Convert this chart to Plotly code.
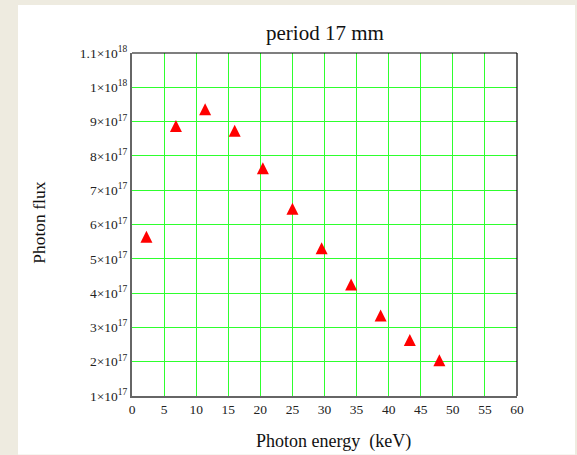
import plotly.graph_objects as go

# ---- data ----
energy_keV = [2.25, 6.85, 11.4, 16.0, 20.4, 25.0, 29.55, 34.15, 38.75, 43.3, 47.9]
photon_flux = [5.64e17, 8.87e17, 9.36e17, 8.73e17, 7.64e17, 6.46e17,
               5.31e17, 4.25e17, 3.35e17, 2.63e17, 2.04e17]

x_tick_vals = [0, 5, 10, 15, 20, 25, 30, 35, 40, 45, 50, 55, 60]
y_tick_vals = [1e17, 2e17, 3e17, 4e17, 5e17, 6e17, 7e17, 8e17, 9e17, 1e18, 1.1e18]
y_tick_text = ["1×10<sup>17</sup>", "2×10<sup>17</sup>", "3×10<sup>17</sup>",
               "4×10<sup>17</sup>", "5×10<sup>17</sup>", "6×10<sup>17</sup>",
               "7×10<sup>17</sup>", "8×10<sup>17</sup>", "9×10<sup>17</sup>",
               "1×10<sup>18</sup>", "1.1×10<sup>18</sup>"]

title_text = "period 17 mm"
x_label = "Photon energy  (keV)"
y_label = "Photon flux"

SERIF = "Liberation Serif, Times New Roman, serif"
GRID = "#2eff2e"

fig = go.Figure()
fig.add_trace(go.Scatter(
    x=energy_keV, y=photon_flux, mode="markers",
    marker=dict(symbol="arrow-down", angle=180, standoff=6, size=12,
                color="#ff0000", line=dict(width=0)),
    showlegend=False, hoverinfo="x+y",
))

fig.update_layout(
    width=577, height=455,
    margin=dict(l=132, r=60, t=53, b=58.5, pad=0),
    paper_bgcolor="#eeebe0",
    plot_bgcolor="#ffffff",
    font=dict(family=SERIF, color="#222222", size=12),
    xaxis=dict(range=[0, 60], tickvals=x_tick_vals, showgrid=True,
               gridcolor=GRID, gridwidth=1.3, zeroline=False,
               showline=True, linecolor="#666666", linewidth=2,
               ticks="", tickfont=dict(family=SERIF, size=13.5, color="#222222")),
    yaxis=dict(range=[1e17, 1.1e18], tickvals=y_tick_vals, ticktext=y_tick_text,
               showgrid=True, gridcolor=GRID, gridwidth=1.3, zeroline=False,
               showline=True, linecolor="#666666", linewidth=2,
               ticks="", tickfont=dict(family=SERIF, size=13.5, color="#222222")),
    shapes=[
        # white panel behind the chart
        dict(type="rect", xref="paper", yref="paper", layer="below",
             x0=(18 - 132) / 385, x1=(575 - 132) / 385,
             y0=(396.5 - 455) / 343.5, y1=(396.5 - 5) / 343.5,
             fillcolor="#ffffff", line=dict(width=0)),
        # top and right frame lines
        dict(type="line", xref="paper", yref="paper", x0=0, x1=1, y0=1, y1=1,
             line=dict(color="#000000", width=1.2)),
        dict(type="line", xref="paper", yref="paper", x0=1, x1=1, y0=0, y1=1,
             line=dict(color="#000000", width=1.2)),
    ],
    annotations=[
        dict(text=title_text, xref="paper", yref="paper",
             x=(325 - 132) / 385, y=(396.5 - 33) / 343.5,
             xanchor="center", yanchor="middle", showarrow=False,
             font=dict(family=SERIF, size=21, color="#111111")),
        dict(text=x_label, xref="paper", yref="paper",
             x=(333 - 132) / 385, y=(396.5 - 442) / 343.5,
             xanchor="center", yanchor="middle", showarrow=False,
             font=dict(family=SERIF, size=18, color="#111111")),
        dict(text=y_label, xref="paper", yref="paper", textangle=-90,
             x=(39.5 - 132) / 385, y=(396.5 - 223.5) / 343.5,
             xanchor="center", yanchor="middle", showarrow=False,
             font=dict(family=SERIF, size=17.5, color="#111111")),
    ],
)

fig.write_html("out.html")
